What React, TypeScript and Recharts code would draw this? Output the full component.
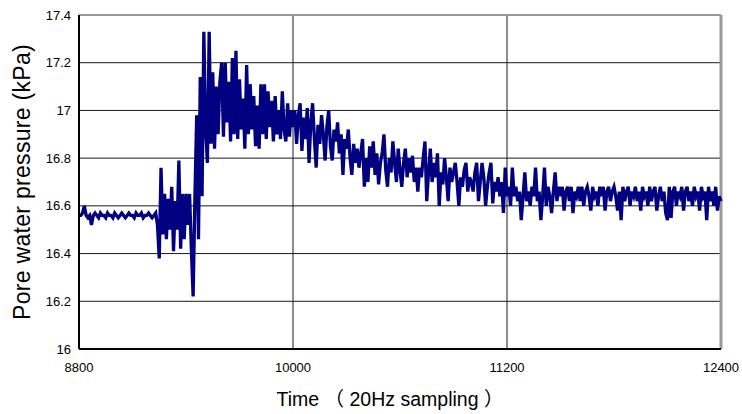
import React from 'react';
import {
  LineChart,
  Line,
  XAxis,
  YAxis,
  CartesianGrid,
  ReferenceLine,
} from 'recharts';

// Pore water pressure (kPa), one reading every 10 samples from t = 8800
const TIME_START = 8800;
const TIME_STEP = 10;

// 8800 - 9190: steady before loading
const baseline = [
  16.56, 16.56, 16.57, 16.60, 16.56, 16.55, 16.56, 16.52, 16.56, 16.57,
  16.56, 16.55, 16.57, 16.56, 16.56, 16.55, 16.57, 16.56, 16.56, 16.55,
  16.57, 16.56, 16.55, 16.56, 16.57, 16.56, 16.55, 16.56, 16.57, 16.56,
  16.56, 16.55, 16.57, 16.56, 16.56, 16.57, 16.55, 16.56, 16.56, 16.57,
];

// 9200 - 9490: onset and jump
const onset = [
  16.56, 16.55, 16.56, 16.57, 16.52, 16.38, 16.76, 16.48, 16.65, 16.46,
  16.63, 16.50, 16.68, 16.41, 16.62, 16.50, 16.79, 16.42, 16.65, 16.46,
  16.65, 16.52, 16.65, 16.42, 16.22, 16.64, 16.98, 16.46, 17.14, 16.64,
];

// 9500 - 9990: peak
const peak = [
  17.33, 16.92, 16.78, 17.33, 16.86, 17.16, 16.84, 17.10, 16.90, 17.12,
  17.20, 16.89, 17.20, 16.95, 17.12, 16.87, 17.22, 16.90, 17.25, 16.88,
  17.13, 16.92, 17.05, 16.84, 17.19, 16.90, 17.11, 16.92, 17.06, 16.85,
  17.02, 16.84, 17.11, 16.90, 17.11, 16.88, 17.08, 16.93, 17.04, 16.87,
  17.06, 16.90, 17.00, 16.88, 17.08, 16.92, 16.87, 17.03, 16.89, 17.00,
];

// 10000 - 11190: dissipation
const decay = [
  16.93, 17.00, 16.86, 16.98, 17.03, 16.83, 16.97, 16.88, 17.01, 16.78,
  16.95, 17.03, 16.88, 16.76, 16.94, 16.86, 16.98, 16.90, 16.79, 16.93,
  17.00, 16.85, 16.79, 16.92, 16.87, 16.95, 16.82, 16.90, 16.73, 16.88,
  16.84, 16.92, 16.80, 16.73, 16.86, 16.78, 16.84, 16.76, 16.82, 16.88,
  16.68, 16.80, 16.70, 16.85, 16.76, 16.87, 16.73, 16.82, 16.69, 16.78,
  16.82, 16.90, 16.75, 16.68, 16.80, 16.74, 16.87, 16.78, 16.70, 16.84,
  16.75, 16.68, 16.78, 16.84, 16.72, 16.80, 16.74, 16.81, 16.70, 16.76,
  16.66, 16.76, 16.72, 16.80, 16.87, 16.62, 16.74, 16.84, 16.70, 16.78,
  16.72, 16.82, 16.60, 16.74, 16.69, 16.80, 16.72, 16.62, 16.76, 16.70,
  16.74, 16.78, 16.70, 16.60, 16.72, 16.68, 16.75, 16.78, 16.66, 16.72,
  16.70, 16.66, 16.74, 16.78, 16.62, 16.70, 16.78, 16.72, 16.60, 16.68,
  16.74, 16.78, 16.61, 16.70, 16.66, 16.72, 16.64, 16.70, 16.57, 16.76,
];

// 11200 - 12400: settled
const tail = [
  16.64, 16.68, 16.60, 16.76, 16.64, 16.68, 16.62, 16.66, 16.54, 16.64,
  16.74, 16.62, 16.66, 16.60, 16.68, 16.64, 16.76, 16.62, 16.66, 16.54,
  16.64, 16.76, 16.60, 16.68, 16.64, 16.57, 16.66, 16.74, 16.62, 16.68,
  16.64, 16.68, 16.58, 16.66, 16.68, 16.62, 16.68, 16.57, 16.66, 16.64,
  16.68, 16.62, 16.68, 16.60, 16.66, 16.68, 16.64, 16.58, 16.68, 16.64,
  16.66, 16.60, 16.68, 16.64, 16.68, 16.58, 16.66, 16.68, 16.62, 16.66,
  16.68, 16.64, 16.58, 16.66, 16.54, 16.68, 16.62, 16.66, 16.68, 16.60,
  16.66, 16.64, 16.68, 16.62, 16.66, 16.58, 16.68, 16.64, 16.66, 16.60,
  16.68, 16.62, 16.66, 16.68, 16.58, 16.64, 16.68, 16.62, 16.66, 16.57,
  16.54, 16.68, 16.55, 16.66, 16.68, 16.60, 16.66, 16.64, 16.68, 16.58,
  16.66, 16.68, 16.62, 16.66, 16.60, 16.68, 16.64, 16.66, 16.58, 16.68,
  16.64, 16.66, 16.54, 16.68, 16.62, 16.66, 16.60, 16.68, 16.58, 16.64,
  16.62,
];

const xTicks = [8800, 10000, 11200, 12400];
const yTicks = [16, 16.2, 16.4, 16.6, 16.8, 17, 17.2, 17.4];

const pressure = [...baseline, ...onset, ...peak, ...decay, ...tail];
const data = pressure.map((p, i) => ({ time: TIME_START + i * TIME_STEP, p }));

const FONT = '"Liberation Sans", Arial, "Noto Sans CJK JP", sans-serif';

export default function App() {
  return (
    <div style={{ position: 'absolute', left: 0, top: 0, width: 742, height: 414, background: '#fff' }}>
      <LineChart
        width={742}
        height={414}
        data={data}
        margin={{ top: 15, right: 21, left: 0, bottom: 0 }}
        style={{ fontFamily: FONT }}
      >
        <CartesianGrid stroke="#1a1a1a" strokeWidth={1} />
        <XAxis
          dataKey="time"
          type="number"
          domain={[8800, 12400]}
          ticks={xTicks}
          height={65}
          tickLine={false}
          tickMargin={8}
          axisLine={{ stroke: '#000', strokeWidth: 2 }}
          tick={{ fill: '#000', fontSize: 13 }}
          label={{
            value: 'Time （ 20Hz sampling ）',
            position: 'insideBottom',
            offset: 8,
            dx: -10,
            style: { fill: '#000', fontSize: 19.5 },
          }}
        />
        <YAxis
          type="number"
          domain={[16, 17.4]}
          ticks={yTicks}
          width={79}
          tickLine={false}
          axisLine={{ stroke: '#000', strokeWidth: 2 }}
          tick={{ fill: '#000', fontSize: 13 }}
          label={{
            value: 'Pore water pressure (kPa)',
            angle: -90,
            position: 'insideLeft',
            offset: 22,
            style: { fill: '#000', fontSize: 23, letterSpacing: 0.3, textAnchor: 'middle' },
          }}
        />
        <ReferenceLine y={17.4} stroke="#999" strokeWidth={2} />
        <ReferenceLine x={12400} stroke="#999" strokeWidth={3} />
        <Line
          type="linear"
          dataKey="p"
          stroke="#000080"
          strokeWidth={3.3}
          dot={false}
          isAnimationActive={false}
        />
      </LineChart>
    </div>
  );
}
